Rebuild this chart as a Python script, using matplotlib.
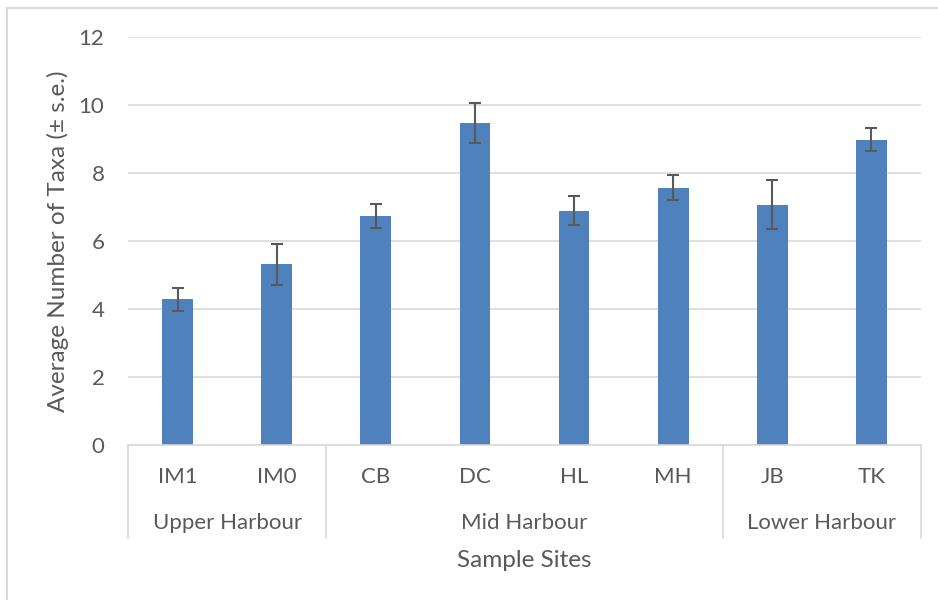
import numpy as np
import matplotlib
matplotlib.use("Agg")
from matplotlib import pyplot as plt
from matplotlib.lines import Line2D
import matplotlib.transforms as mtransforms

plt.rcParams['font.family'] = ['Lato', 'DejaVu Sans']

sites = ['IM1', 'IM0', 'CB', 'DC', 'HL', 'MH', 'JB', 'TK']
taxa = [4.29, 5.31, 6.73, 9.48, 6.89, 7.57, 7.06, 8.98]
se = [0.34, 0.60, 0.36, 0.59, 0.43, 0.36, 0.72, 0.33]
groups = ['Upper Harbour', 'Mid Harbour', 'Lower Harbour']
group_sizes = [2, 4, 2]

txt = '#595959'
grid = '#d9d9d9'

fig = plt.figure(figsize=(9.38, 6), dpi=100)
ax = fig.add_axes([128/938, 1 - 445/600, (921-128)/938, (445-37)/600])

x = np.arange(len(sites))
ax.bar(x, taxa, width=0.31, color='#4f81bd', zorder=2)
ax.errorbar(x, taxa, yerr=se, fmt='none', ecolor=txt, elinewidth=1.5,
            capsize=4.5, capthick=1.5, zorder=3)

ax.set_xlim(-0.5, len(sites) - 0.5)
ax.set_ylim(0, 12)
ax.set_yticks(range(0, 13, 2))
ax.yaxis.grid(True, color=grid, linewidth=1.2, zorder=0)
ax.set_axisbelow(True)
for s in ['top', 'right', 'left']:
    ax.spines[s].set_visible(False)
ax.spines['bottom'].set_color(grid)
ax.spines['bottom'].set_linewidth(1.2)
ax.tick_params(axis='y', length=0, pad=17, labelsize=16, labelcolor=txt)
ax.set_xticks([])

trans = mtransforms.blended_transform_factory(ax.transData, ax.transAxes)
for i, s in enumerate(sites):
    ax.text(i, -0.078, s, transform=trans, ha='center', va='center',
            fontsize=16, color=txt)

# group labels and separators
edges = np.concatenate([[0], np.cumsum(group_sizes)]) - 0.5
for e in edges:
    ax.add_line(Line2D([e, e], [0, -0.228], transform=trans, color=grid,
                       linewidth=1.2, clip_on=False))
for g, a, b in zip(groups, edges[:-1], edges[1:]):
    ax.text((a + b) / 2, -0.19, g, transform=trans, ha='center', va='center',
            fontsize=16, color=txt)

ax.text(0.5, -0.284, 'Sample Sites', transform=ax.transAxes, ha='center',
        va='center', fontsize=17.5, color=txt)
fig.text(58/938, 1 - 241/600, 'Average Number of Taxa (\u00b1 s.e.)',
         rotation=90, ha='center', va='center', fontsize=17.5, color=txt)

# chart border (left and top only visible)
fig.add_artist(Line2D([7/938, 7/938], [0, 1 - 8/600], transform=fig.transFigure,
                      color=grid, linewidth=1.5))
fig.add_artist(Line2D([7/938, 1], [1 - 8/600, 1 - 8/600], transform=fig.transFigure,
                      color=grid, linewidth=1.5))

fig.savefig('out.png', dpi=100)
plt.close(fig)
